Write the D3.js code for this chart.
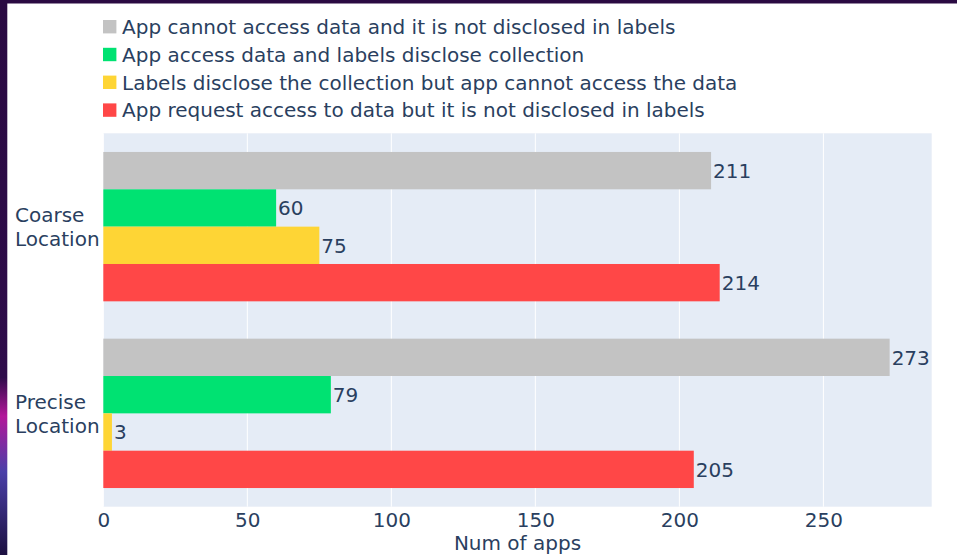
<!DOCTYPE html>
<html>
<head>
<meta charset="utf-8">
<script src="https://cdn.jsdelivr.net/npm/d3@7"></script>
<style>
  body { margin: 0; background: #fff; }
  svg text { font-family: "DejaVu Sans", Verdana, sans-serif; fill: #2a3f5f; }
</style>
</head>
<body>
<svg id="chart" width="957" height="555"></svg>
<script>
const categories = ['Coarse Location', 'Precise Location'];
const seriesNames = [
  'App cannot access data and it is not disclosed in labels',
  'App access data and labels disclose collection',
  'Labels disclose the collection but app cannot access the data',
  'App request access to data but it is not disclosed in labels'
];
const seriesColors = ['#c3c3c3', '#00e272', '#fed535', '#ff4747'];
const seriesValues = [
  [211, 273],
  [60, 79],
  [75, 3],
  [214, 205]
];
const xTicks = [0, 50, 100, 150, 200, 250];

const svg = d3.select('#chart');
const margin = { top: 133.3, right: 25.3, bottom: 48.3, left: 103.3 };
const width = 957 - margin.left - margin.right;
const height = 555 - margin.top - margin.bottom;

// dark screenshot frame on top/left
const frame = svg.append('g');
frame.append('rect').attr('x', 0).attr('y', 0).attr('width', 957).attr('height', 3.5).attr('fill', '#2a0a42');
const grad = svg.append('defs').append('linearGradient')
  .attr('id', 'edge').attr('x1', 0).attr('y1', 0).attr('x2', 0).attr('y2', 1);
grad.append('stop').attr('offset', '0%').attr('stop-color', '#2a0a42');
grad.append('stop').attr('offset', '68%').attr('stop-color', '#2e0c4a');
grad.append('stop').attr('offset', '75%').attr('stop-color', '#b3179a');
grad.append('stop').attr('offset', '85%').attr('stop-color', '#4a3fa8');
grad.append('stop').attr('offset', '100%').attr('stop-color', '#1c1040');
frame.append('rect').attr('x', 0).attr('y', 0).attr('width', 7.3).attr('height', 555).attr('fill', 'url(#edge)');

const g = svg.append('g').attr('transform', `translate(${margin.left},${margin.top})`);

const x = d3.scaleLinear().domain([0, 287.6]).range([0, width]);
const y = d3.scaleBand().domain(categories).range([0, height]).paddingInner(0.2).paddingOuter(0.1);
const ySub = d3.scaleBand().domain(d3.range(seriesNames.length)).range([0, y.bandwidth()]);

g.append('rect').attr('width', width).attr('height', height).attr('fill', '#e5ecf6');

g.append('g')
  .selectAll('line')
  .data(xTicks)
  .enter()
  .append('line')
  .attr('x1', d => x(d)).attr('x2', d => x(d))
  .attr('y1', 0).attr('y2', height)
  .attr('stroke', '#fff').attr('stroke-width', 1);

const bars = [];
seriesValues.forEach((vals, s) => {
  vals.forEach((v, c) => bars.push({ s, cat: categories[c], value: v }));
});

const barG = g.append('g')
  .selectAll('g')
  .data(bars)
  .enter()
  .append('g');

barG.append('rect')
  .attr('x', 0)
  .attr('y', d => y(d.cat) + ySub(d.s))
  .attr('width', d => x(d.value))
  .attr('height', ySub.bandwidth())
  .attr('fill', d => seriesColors[d.s]);

barG.append('text')
  .attr('x', d => x(d.value) + 2)
  .attr('y', d => y(d.cat) + ySub(d.s) + ySub.bandwidth() / 2)
  .attr('dy', '0.36em')
  .style('font-size', '20px')
  .text(d => d.value);

// x axis
const xAxis = d3.axisBottom(x).tickValues(xTicks).tickSize(0).tickPadding(6);
const xa = g.append('g').attr('transform', `translate(0,${height})`).call(xAxis);
xa.select('.domain').remove();
xa.selectAll('text').style('font-size', '20px').attr('fill', '#2a3f5f')
  .style('font-family', '"DejaVu Sans", Verdana, sans-serif');

g.append('text')
  .attr('x', width / 2)
  .attr('y', height + 43)
  .attr('text-anchor', 'middle')
  .style('font-size', '20px')
  .text('Num of apps');

// category labels
const catG = svg.append('g')
  .selectAll('text')
  .data(categories)
  .enter()
  .append('text')
  .attr('x', 15)
  .attr('y', d => margin.top + y(d) + y.bandwidth() / 2)
  .style('font-size', '20px');
catG.each(function(d) {
  const parts = d.split(' ');
  const t = d3.select(this);
  parts.forEach((p, i) => {
    t.append('tspan')
      .attr('x', 15)
      .attr('dy', i === 0 ? '-0.22em' : '1.2em')
      .text(p);
  });
});

// legend
const legend = svg.append('g')
  .selectAll('g')
  .data(seriesNames)
  .enter()
  .append('g')
  .attr('transform', (d, i) => `translate(103,${26.7 + i * 27.8})`);

legend.append('rect')
  .attr('x', 0).attr('y', -6.7)
  .attr('width', 13.4).attr('height', 13.4)
  .attr('fill', (d, i) => seriesColors[i]);

legend.append('text')
  .attr('x', 19)
  .attr('y', 0)
  .attr('dy', '0.36em')
  .style('font-size', '20px')
  .text(d => d);
</script>
</body>
</html>
